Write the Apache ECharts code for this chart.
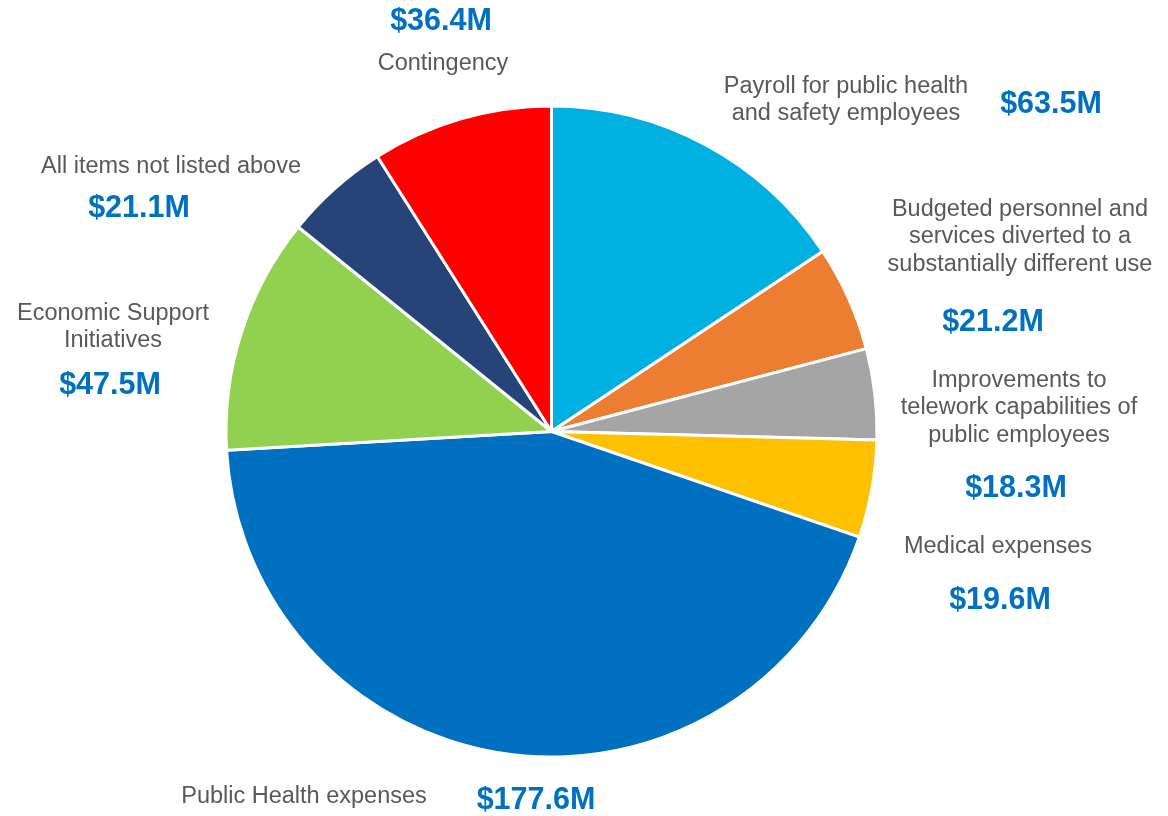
<!DOCTYPE html>
<html>
<head>
<meta charset="utf-8">
<script src="https://cdn.jsdelivr.net/npm/echarts@6/dist/echarts.min.js"></script>
<style>html,body{margin:0;padding:0;background:#fff}#c{width:1168px;height:816px}</style>
</head>
<body>
<div id="c"></div>
<script>
// Data
const categories = [
  'Payroll for public health\nand safety employees',
  'Budgeted personnel and\nservices diverted to a\nsubstantially different use',
  'Improvements to\ntelework capabilities of\npublic employees',
  'Medical expenses',
  'Public Health expenses',
  'Economic Support\nInitiatives',
  'All items not listed above',
  'Contingency'
];
const values = [63.5, 21.2, 18.3, 19.6, 177.6, 47.5, 21.1, 36.4];
const colors = ['#00B0E0', '#ED7D31', '#A5A5A5', '#FFC000', '#0070C0', '#92D050', '#264478', '#FF0000'];

// Label placement (layout only)
const namePos = [[846,100],[1020,237],[1019,408],[998,547],[304,797],[113,327],[171,167],[443,64]];
const valuePos = [[1051,105],[993,323],[1016,489],[1000,601],[536,801],[110,386],[139,209],[441,22]];

const FONT = "'Liberation Sans', Arial, sans-serif";
const chart = echarts.init(document.getElementById('c'), null, {renderer:'canvas'});
const data = categories.map((n, i) => ({ name: n, value: values[i], itemStyle: { color: colors[i] } }));
const common = {
  type: 'pie',
  center: [551.5, 431.5],
  radius: [0, 325.5],
  startAngle: 90,
  clockwise: true,
  avoidLabelOverlap: false,
  labelLine: { show: false },
  emphasis: { disabled: true },
  animation: false
};
chart.setOption({
  backgroundColor: '#fff',
  series: [
    Object.assign({}, common, {
      data: data,
      itemStyle: { borderColor: '#fff', borderWidth: 3 },
      label: {
        show: true, position: 'outside',
        formatter: p => p.name,
        color: '#595959', fontFamily: FONT,
        fontSize: 23.5, lineHeight: 27.5, align: 'center'
      },
      labelLayout: p => ({ x: namePos[p.dataIndex][0], y: namePos[p.dataIndex][1], align: 'center', verticalAlign: 'middle' })
    }),
    Object.assign({}, common, {
      silent: true,
      data: categories.map((n, i) => ({ name: n, value: values[i] })),
      itemStyle: { color: 'rgba(0,0,0,0)', borderWidth: 0 },
      label: {
        show: true, position: 'outside',
        formatter: p => '$' + p.value.toFixed(1) + 'M',
        color: '#0070C0', fontFamily: FONT,
        fontWeight: 'bold', fontSize: 30.5, align: 'center'
      },
      labelLayout: p => ({ x: valuePos[p.dataIndex][0], y: valuePos[p.dataIndex][1], align: 'center', verticalAlign: 'middle' })
    })
  ]
});
</script>
</body>
</html>
